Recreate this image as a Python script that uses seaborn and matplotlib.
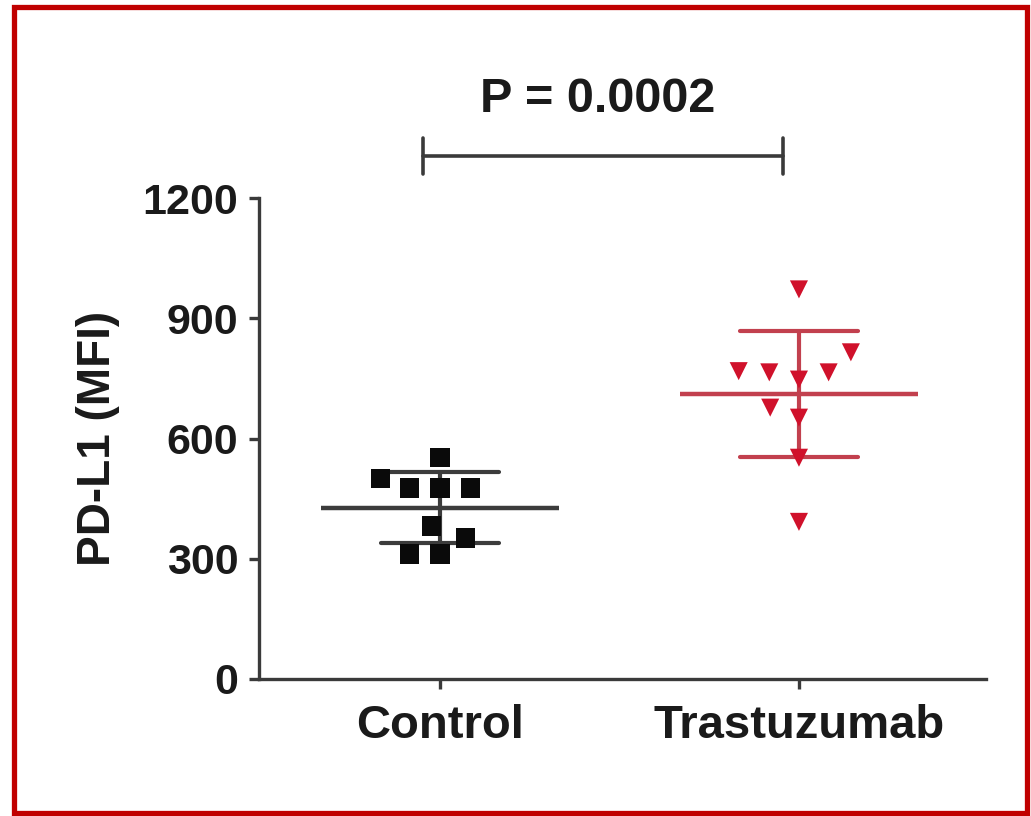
import matplotlib
matplotlib.use("Agg")
import matplotlib.pyplot as plt
from matplotlib.collections import PathCollection
from matplotlib.patches import Rectangle
import numpy as np
import pandas as pd
import seaborn as sns

# PD-L1 surface expression (MFI) per sample
groups = ["Control", "Trastuzumab"]
control_mfi = [552, 500, 477, 477, 477, 382, 352, 312, 312]
trastuzumab_mfi = [972, 815, 768, 765, 765, 747, 677, 652, 552, 392]
y_ticks = [0, 300, 600, 900, 1200]
p_label = "P = 0.0002"
y_label = "PD-L1 (MFI)"

df = pd.DataFrame({
    "group": ["Control"] * len(control_mfi) + ["Trastuzumab"] * len(trastuzumab_mfi),
    "mfi": control_mfi + trastuzumab_mfi,
})

marker_colors = {"Control": "#0a0a0a", "Trastuzumab": "#d0112b"}
line_colors = {"Control": "#3c3c3c", "Trastuzumab": "#c2404e"}
markers = {"Control": "s", "Trastuzumab": "v"}
marker_size = {"Control": 14, "Trastuzumab": 13}
swarm_spacing = 21  # points between neighbouring swarm centres

sns.set_theme(style="ticks")
plt.rcParams["font.family"] = ["Liberation Sans", "DejaVu Sans"]
plt.rcParams["font.weight"] = "bold"

W, H = 1031, 816
fig = plt.figure(figsize=(W / 100, H / 100), dpi=100)
ax = fig.add_axes([259 / W, 1 - 679 / H, (986 - 259) / W, (679 - 198) / H])

# mean line with SD error bars
sns.pointplot(
    data=df, x="group", y="mfi", hue="group", order=groups, hue_order=groups,
    palette=line_colors, estimator="mean", errorbar="sd", capsize=0.33,
    markers="_", markersize=172, markeredgewidth=3.2, linestyle="none",
    err_kws={"linewidth": 3.0}, legend=False, ax=ax, zorder=2,
)

# individual samples, laid out as a loose swarm
for g in groups:
    sns.swarmplot(
        data=df[df["group"] == g], x="group", y="mfi", order=groups,
        marker=markers[g], color=marker_colors[g], size=swarm_spacing, linewidth=0,
        ax=ax, zorder=3,
    )

ax.set_xlim(-0.504, 1.521)
ax.set_ylim(0, 1200)
ax.set_yticks(y_ticks)
ax.set_yticklabels([str(v) for v in y_ticks])
ax.set_xlabel("")
ax.set_ylabel(y_label, fontsize=33, fontweight="bold", color="#1a1a1a", labelpad=16)

sns.despine(ax=ax)
for side in ("left", "bottom"):
    ax.spines[side].set_linewidth(2.4)
    ax.spines[side].set_color("#3a3a3a")
ax.tick_params(axis="both", length=7, width=2.4, color="#3a3a3a",
               labelcolor="#1a1a1a")
ax.tick_params(axis="y", labelsize=31, pad=8)
ax.tick_params(axis="x", labelsize=34, pad=11)
for lbl in ax.get_xticklabels() + ax.get_yticklabels():
    lbl.set_fontweight("bold")

# significance bracket
bx0, bx1, by, btick = -0.047, 0.955, 1305, 45
ax.plot([bx0, bx1], [by, by], color="#3a3a3a", lw=2.6, clip_on=False)
ax.plot([bx0, bx0], [by - btick, by + btick], color="#3a3a3a", lw=2.6, clip_on=False)
ax.plot([bx1, bx1], [by - btick, by + btick], color="#3a3a3a", lw=2.6, clip_on=False)
ax.text(0.44, 1445, p_label, ha="center", va="center", fontsize=35,
        fontweight="bold", color="#1a1a1a", clip_on=False)

# dark red frame around the panel
fig.patches.append(Rectangle((14 / W, 1 - 813 / H), (1027 - 14) / W, (813 - 7) / H,
                             transform=fig.transFigure, fill=False,
                             edgecolor="#c00000", linewidth=3.8))

# fix the swarm layout at the wide spacing, then shrink the markers
fig.canvas.draw()
for coll in ax.collections:
    if not isinstance(coll, PathCollection):
        continue
    offs = coll.get_offsets()
    if len(offs) == 0:
        continue
    g = groups[int(round(float(np.mean(np.asarray(offs)[:, 0]))))]
    coll.__dict__.pop("draw", None)
    coll.set_sizes(np.full(len(offs), marker_size[g] ** 2))

fig.savefig("out.png", dpi=100)
